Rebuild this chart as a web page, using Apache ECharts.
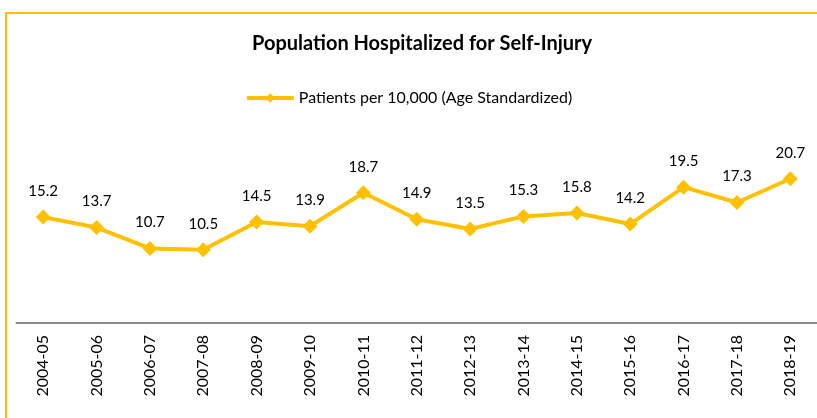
<!DOCTYPE html>
<html>
<head>
<meta charset="utf-8">
<script src="https://cdn.jsdelivr.net/npm/echarts@6/dist/echarts.min.js"></script>
<style>
  html, body { margin: 0; padding: 0; background: #fff; overflow: hidden; }
  .frame { position: absolute; left: 5px; top: 12px; width: 900px; height: 500px; border: 2px solid #FFC000; }
  #chart { position: absolute; left: 0; top: 0; width: 817px; height: 418px; }
</style>
</head>
<body>
<div class="frame"></div>
<div id="chart"></div>
<script>
const years = ['2004-05', '2005-06', '2006-07', '2007-08', '2008-09', '2009-10', '2010-11', '2011-12',
  '2012-13', '2013-14', '2014-15', '2015-16', '2016-17', '2017-18', '2018-19']
const patients = [15.2, 13.7, 10.7, 10.5, 14.5, 13.9, 18.7, 14.9, 13.5, 15.3, 15.8, 14.2, 19.5, 17.3, 20.7]

const gold = '#FFC000'
const font = 'Lato, "Open Sans", sans-serif'

const chart = echarts.init(document.getElementById('chart'))
chart.setOption({
  animation: false,
  title: {
    text: 'Population Hospitalized for Self-Injury',
    left: 247,
    top: 29,
    textStyle: { fontFamily: font, fontSize: 20, fontWeight: 'bold', color: '#000' }
  },
  legend: {
    top: 85,
    left: 'center',
    itemWidth: 47,
    itemHeight: 12,
    itemGap: 4,
    lineStyle: { width: 4 },
    textStyle: { fontFamily: font, fontSize: 16, color: '#000' },
    data: ['Patients per 10,000 (Age Standardized)']
  },
  grid: { left: 16.5, right: 0, top: 114, bottom: 95 },
  xAxis: {
    type: 'category',
    data: years,
    boundaryGap: true,
    axisLine: { lineStyle: { color: '#8c8c8c', width: 2 } },
    axisTick: { show: false },
    axisLabel: { rotate: 90, margin: 12, interval: 0, fontFamily: font, fontSize: 16, color: '#000' }
  },
  yAxis: {
    type: 'value',
    min: 0,
    max: 30,
    show: false,
    splitLine: { show: false }
  },
  series: [{
    name: 'Patients per 10,000 (Age Standardized)',
    type: 'line',
    data: patients,
    color: gold,
    symbol: 'diamond',
    symbolSize: 15,
    lineStyle: { width: 4, color: gold },
    itemStyle: { color: gold },
    label: {
      show: true,
      position: 'top',
      distance: 11,
      fontFamily: font,
      fontSize: 15,
      color: '#000',
      formatter: (p) => p.value.toFixed(1)
    }
  }]
})
</script>
</body>
</html>
